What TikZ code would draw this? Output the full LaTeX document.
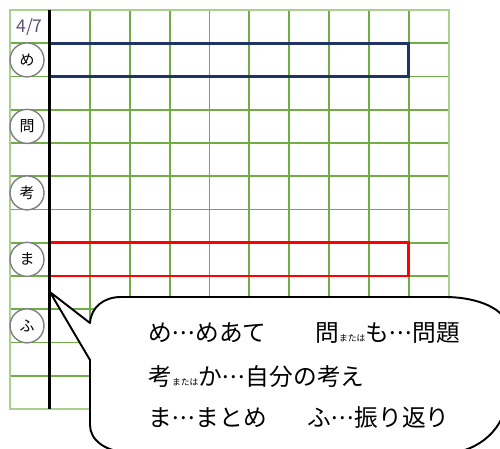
\documentclass[tikz,border=0pt]{standalone}
\usepackage{fontspec}
\newfontfamily\jp{Noto Sans CJK JP}
\usetikzlibrary{positioning}
\definecolor{gridgreen}{RGB}{112,173,71}
\definecolor{gridlight}{RGB}{169,208,142}
\definecolor{navy}{RGB}{31,52,100}
\definecolor{datecol}{RGB}{95,82,120}
\newcommand{\matawa}{{\fontsize{5}{5}\selectfont または}}
\newcommand{\tten}{\makebox[1em]{\raisebox{0.3em}{.\hspace{0.06em}.\hspace{0.06em}.}}}
\tikzset{
    x=0.02cm, y=-0.02cm, % one unit is one pixel of the page
    gridline/.style={gridgreen, line width=1.1pt}, % lines of the sheet
    rowsign/.style={circle, draw=gray, line width=0.8pt, fill=white, minimum size=0.68cm, inner sep=0pt, font=\jp\fontsize{8.5}{8.5}\selectfont}, % circled signs in the first column
    boxline/.style={line width=1.7pt}, % the two framed rows
    callout/.style={draw=black, fill=white, line width=1.1pt, line join=round},
    talk/.style={anchor=west, inner sep=0pt, font=\jp\fontsize{13.5}{13.5}\selectfont}, % text in the callout
    node distance=1.33cm, % two rows
}

\begin{document}
\begin{tikzpicture}
    \useasboundingbox (0,0) rectangle (500,449);
    \foreach \i in {1,...,10}
        \draw[gridline] (10+39.9*\i,10) -- (10+39.9*\i,409);
    \foreach \j in {1,...,11}
        \draw[gridline] (10,10+33.25*\j) -- (448.9,10+33.25*\j);
    \draw[gridline, gridlight] (10,10) rectangle (448.9,409);
    \draw[boxline, navy] (49.9,43.25) rectangle (408.9,76.5);
    \draw[boxline, red] (49.9,242.75) rectangle (408.9,276);
    \draw[line width=1.7pt] (49.9,10) -- (49.9,409);

    \node[text=datecol, font=\jp\fontsize{10}{10}\selectfont] (date) at (29.5,27) {4/7};
    \node[rowsign] (me) at (27,59.9) {め};
    \node[rowsign, below of=me] (toi) {問};
    \node[rowsign, below of=toi] (kan) {考};
    \node[rowsign, below of=kan] (ma) {ま};
    \node[rowsign, below of=ma] (fu) {ふ};

    \coordinate (tip) at (49.9,292);
    \draw[callout] (tip) -- (90,323)
        .. controls (91,307) and (104,297) .. (121,297) -- (445,297)
        .. controls (479,297) and (507,310) .. (507,327) -- (507,395)
        .. controls (507,427) and (479,453) .. (445,453) -- (135,453)
        .. controls (105,453) and (90,440) .. (90,425) -- (90,360) -- cycle;

    \node[talk] (t1) at (148,333) {め\tten めあて};
    \node[talk] (t2) at (315,333) {問\matawa も\tten 問題};
    \node[talk] (t3) at (148,377) {考\matawa か\tten 自分の考え};
    \node[talk] (t4) at (148,418) {ま\tten まとめ};
    \node[talk] (t5) at (307,418) {ふ\tten 振り返り};
\end{tikzpicture}
\end{document}
